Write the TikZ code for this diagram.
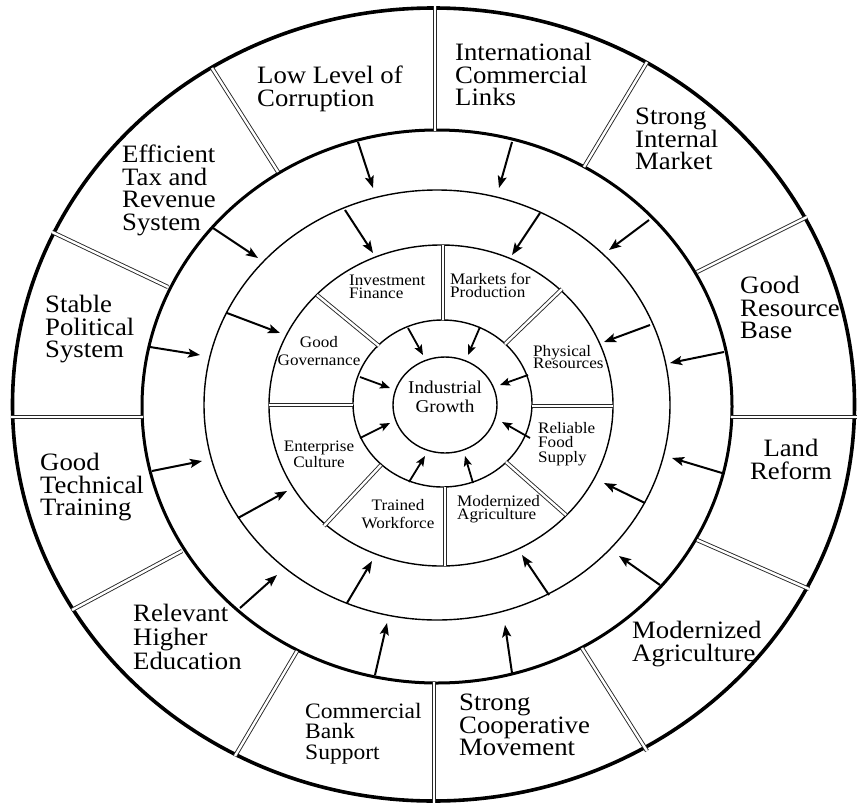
\documentclass[tikz,border=0pt]{standalone}
\usepackage{fontspec}
\setmainfont{Liberation Serif}[FakeStretch=1.07]
\usetikzlibrary{arrows.meta}
\newcommand\nolsl{\lineskiplimit=-30pt\relax}
\begin{document}
\begin{tikzpicture}[x=1pt,y=-1pt,
  ringthick/.style={line width=3.6pt},
  ringmid/.style={line width=3pt},
  ringthin/.style={line width=1.4pt},
  divider/.style={draw=black!85, line width=0.9pt, double=white, double distance=2.4pt},
  bigarrow/.style={line width=2pt, -{Stealth[length=12pt,width=9pt,inset=2.5pt]}},
  smallarrow/.style={line width=1.8pt, -{Stealth[length=10pt,width=8pt,inset=2pt]}},
  outerlbl/.style={inner sep=0pt, align=left, anchor=north west,
    font=\fontsize{25}{22.5}\selectfont\nolsl},
  innerlbl/.style={inner sep=0pt, font=\fontsize{16}{#1}\selectfont\nolsl},
]
\useasboundingbox (0,0) rectangle (857,806);
\fill[white] (0,0) rectangle (857,806);

% rings
\coordinate (c0) at (433.5,404.5);
\coordinate (c1) at (437,406.5);
\coordinate (c2) at (437,405);
\coordinate (c3) at (441,405.5);
\coordinate (c4) at (442.5,403.5);
\coordinate (c5) at (445,405);
\draw[ringthick] (c0) ellipse [x radius=421pt, y radius=396.5pt];
\draw[ringmid]   (c1) ellipse [x radius=295pt, y radius=276.5pt];
\draw[ringthin]  (c2) ellipse [x radius=233pt, y radius=215pt];
\draw[ringthin]  (c3) ellipse [x radius=172pt, y radius=160.5pt];
\draw[ringthin]  (c4) ellipse [x radius=89.5pt, y radius=83.5pt];
\draw[ringthin]  (c5) ellipse [x radius=52pt, y radius=48pt];

% outer dividers
\foreach \a/\b/\c/\d in {435/6/435/131, 212/68/278/172, 52/232/168/287,
  11/417/143/417, 72/610/182/551, 235/756/297/651, 434/682/434/803,
  647/751/582/648, 809/589/697/540, 731/417/857/417, 807/217/697/272,
  647/62/584/167}
  \draw[divider] (\a,\b) -- (\c,\d);

% middle-ring dividers
\foreach \a/\b/\c/\d in {443/245/443/320, 317/295/379/346, 269/405/353/405,
  381/465/324/526, 445/487/445/566, 506/462/566/515, 532/406/613/406,
  505/344/562/289}
  \draw[divider] (\a,\b) -- (\c,\d);

% arrows, outer and middle bands
\foreach \n/\a/\b/\c/\d in {A1/358/142/373/188, A2/213/228/258/258,
  A3/150/347/200/355, A4/512/142/499/188, A5/649/220/609/250,
  A6/724/352/670/363, A7/152/471/202/461, A8/240/608/277/575,
  A9/375/675/387/623, A10/512/673/505/625, A11/660/585/619/556,
  A12/722/473/672/458,
  B1/345/210/373/253, B2/227/313/280/333, B3/540/213/512/255,
  B4/650/325/604/342, B5/238/518/287/491, B6/347/603/372/561,
  B7/549/595/522/555, B8/645/503/604/483}
{
  \coordinate (\n s) at (\a,\b);
  \coordinate (\n e) at (\c,\d);
  \draw[bigarrow] (\n s) -- (\n e);
}
% arrows, inner band
\foreach \n/\a/\b/\c/\d in {C1/408/328/423/355, C2/480/327/468/355,
  C3/360/377/390/388, C4/528/375/500/385, C5/360/438/390/423,
  C6/530/438/502/422, C7/409/482/425/456, C8/473/483/465/456}
{
  \coordinate (\n s) at (\a,\b);
  \coordinate (\n e) at (\c,\d);
  \draw[smallarrow] (\n s) -- (\n e);
}

% outer labels
\node[outerlbl] (corr) at (257,66) {Low Level of\\Corruption};
\node[outerlbl] (tax) at (122,145) {Efficient\\Tax and\\Revenue\\System};
\node[outerlbl] (pol) at (45,295) {Stable\\Political\\System};
\node[outerlbl] (intl) at (455,43) {International\\Commercial\\Links};
\node[outerlbl] (mkt) at (635,108) {Strong\\Internal\\Market};
\node[outerlbl] (res) at (740,276) {Good\\Resource\\Base};
\node[outerlbl] (tech) at (40,453) {Good\\Technical\\Training};
\node[outerlbl, font=\fontsize{25}{24}\selectfont\nolsl] (edu) at (133,604) {Relevant\\Higher\\Education};
\node[outerlbl, font=\fontsize{22}{20.5}\selectfont\nolsl] (bank) at (305,703) {Commercial\\Bank\\Support};
\node[outerlbl, align=center, anchor=north] (land) at (791,439) {Land\\Reform};
\node[outerlbl] (agri) at (632,621) {Modernized\\Agriculture};
\node[outerlbl] (coop) at (459,694) {Strong\\Cooperative\\Movement};

% inner labels
\node[innerlbl=12.5, align=left, anchor=north west] (inv) at (349,275) {Investment\\Finance};
\node[innerlbl=13.5, align=left, anchor=north west] (mfp) at (450,273) {Markets for\\Production};
\node[innerlbl=18, align=center, anchor=north] (gov) at (319,336) {Good\\Governance};
\node[innerlbl=12.5, align=left, anchor=north west] (phys) at (533,345) {Physical\\Resources};
\node[inner sep=0pt, align=center, anchor=north, font=\fontsize{18}{19}\selectfont\nolsl] (ind) at (445,381) {Industrial\\Growth};
\node[innerlbl=16, align=center, anchor=north] (ent) at (319,441) {Enterprise\\Culture};
\node[innerlbl=14.5, align=left, anchor=north west] (food) at (538,422) {Reliable\\Food\\Supply};
\node[innerlbl=18, align=center, anchor=north] (work) at (398,499) {Trained\\Workforce};
\node[innerlbl=13.5, align=left, anchor=north west] (magr) at (457,495) {Modernized\\Agriculture};
\end{tikzpicture}
\end{document}
